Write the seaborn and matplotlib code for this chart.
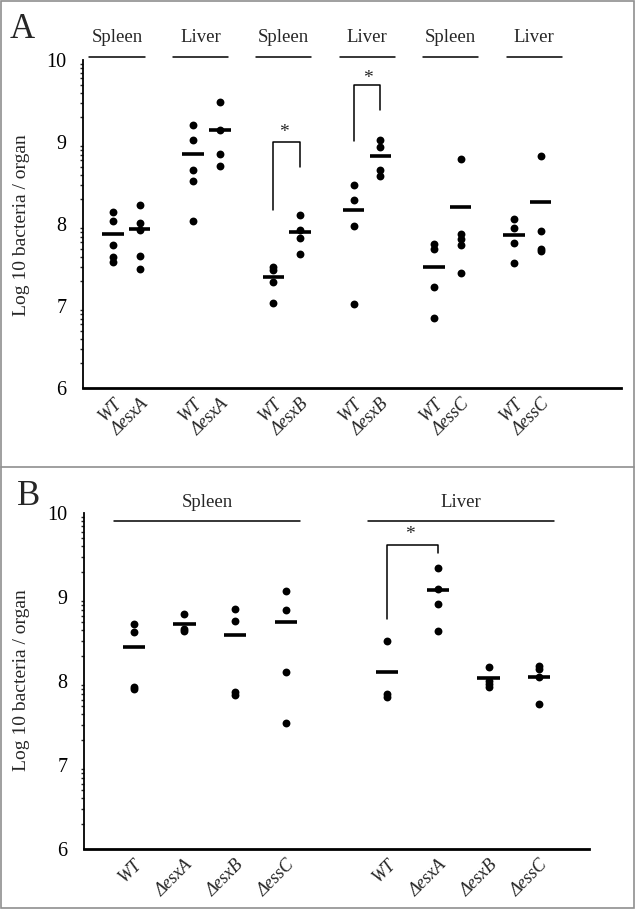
import numpy as np
import pandas as pd
import matplotlib
matplotlib.use('Agg')
import matplotlib.pyplot as plt
import seaborn as sns

# ---- panel A data (log10 CFU per organ) ----
a_organs = ['Spleen', 'Liver', 'Spleen', 'Liver', 'Spleen', 'Liver']
a_mutants = ['ΔesxA', 'ΔesxA', 'ΔesxB', 'ΔesxB', 'ΔessC', 'ΔessC']
a_wt_values = [
    [8.15, 8.04, 7.74, 7.60, 7.54],
    [9.21, 9.02, 8.66, 8.53, 8.04],
    [7.48, 7.44, 7.29, 7.04],
    [8.47, 8.29, 7.98, 7.02],
    [7.76, 7.70, 7.23, 6.85],
    [8.06, 7.95, 7.77, 7.53],
]
a_mut_values = [
    [8.23, 8.01, 7.93, 7.61, 7.45],
    [9.49, 9.15, 8.85, 8.71],
    [8.11, 7.93, 7.83, 7.64],
    [9.03, 8.94, 8.66, 8.59],
    [8.79, 7.88, 7.82, 7.75, 7.40],
    [8.83, 7.91, 7.70, 7.67],
]
a_wt_means = [7.88, 8.85, 7.35, 8.17, 7.48, 7.87]
a_mut_means = [7.94, 9.15, 7.90, 8.83, 8.21, 8.27]

# ---- panel B data ----
b_organs = ['Spleen', 'Liver']
b_strains = ['WT', 'ΔesxA', 'ΔesxB', 'ΔessC']
b_values = [
    [[8.68, 8.58, 7.93, 7.90], [8.80, 8.62, 8.60], [8.86, 8.71, 7.87, 7.83], [9.07, 8.84, 8.11, 7.50]],
    [[8.48, 7.85, 7.81], [9.35, 9.10, 8.92, 8.59], [8.17, 8.00, 7.96, 7.93], [8.18, 8.14, 8.05, 7.73]],
]
b_means = [[8.40, 8.68, 8.55, 8.70], [8.11, 9.08, 8.03, 8.05]]

W, H = 635, 910
plt.rcParams['figure.dpi'] = 100
sns.set_style('white')
plt.rcParams['font.family'] = ['Liberation Serif', 'DejaVu Serif']

fig = plt.figure(figsize=(W / 100, H / 100))


def px_axes(left, top, right, bottom):
    return fig.add_axes([left / W, 1 - bottom / H, (right - left) / W, (bottom - top) / H])


def style_axis(ax):
    ax.set_ylim(6, 10)
    ax.set_yticks([6, 7, 8, 9, 10])
    ax.set_yticklabels(['6', '7', '8', '9', '10'], fontsize=14.5)
    minor = [n + np.log10(k) for n in range(6, 10) for k in range(2, 10)]
    ax.set_yticks(minor, minor=True)
    ax.tick_params(axis='y', which='major', direction='out', length=4, width=1.2, pad=8, colors='black')
    ax.tick_params(axis='y', which='minor', direction='out', length=2.5, width=1.0, left=True)
    ax.tick_params(axis='x', length=0, pad=5)
    for s in ['top', 'right']:
        ax.spines[s].set_visible(False)
    ax.spines['left'].set_linewidth(1.3)
    ax.spines['left'].set_color('black')
    ax.spines['bottom'].set_linewidth(2.0)
    ax.spines['bottom'].set_color('black')
    ax.set_xlabel('')
    ax.set_ylabel('')
    ax.grid(False)


# ================= Panel A =================
axA = px_axes(83, 60, 621, 388)
rows = []
a_pos, a_lab, a_mean = [], [], []
for i in range(len(a_organs)):
    for j, (vals, lab, m) in enumerate([(a_wt_values[i], 'WT', a_wt_means[i]),
                                        (a_mut_values[i], a_mutants[i], a_mut_means[i])]):
        p = 3 * i + j
        a_pos.append(p)
        a_lab.append(lab)
        a_mean.append(m)
        for v in vals:
            rows.append({'pos': p, 'value': v})
dfA = pd.DataFrame(rows)
sns.scatterplot(data=dfA, x='pos', y='value', color='black', s=32, linewidth=0, ax=axA, legend=False)
a_pos = np.array(a_pos)
axA.hlines(a_mean, a_pos - 0.4, a_pos + 0.4, colors='black', lw=2.6)
axA.set_xlim(-1.12, 19.0)
style_axis(axA)
axA.set_xticks(a_pos)
axA.set_xticklabels(a_lab, rotation=45, ha='right', rotation_mode='anchor',
                    fontsize=13, fontstyle='italic')

# organ headers
for i, organ in enumerate(a_organs):
    c = 3.12 * i + 0.15
    axA.plot([c - 1.03, c + 1.03], [10.04, 10.04], color='black', lw=1.1, clip_on=False)
    axA.text(c, 10.27, organ, ha='center', va='center', fontsize=13.5)

# significance brackets
axA.plot([6, 6, 7, 7], [8.17, 9.0, 9.0, 8.70], color='black', lw=1.1)
axA.text(6.4, 9.12, '*', ha='center', va='center', fontsize=14)
axA.plot([9, 9, 10, 10], [9.01, 9.69, 9.69, 9.39], color='black', lw=1.1)
axA.text(9.55, 9.78, '*', ha='center', va='center', fontsize=14)

# ================= Panel B =================
axB = px_axes(84, 513, 589, 849)
rows = []
b_pos, b_lab, b_mean = [], [], []
for i in range(len(b_organs)):
    for j, strain in enumerate(b_strains):
        p = 5 * i + j
        b_pos.append(p)
        b_lab.append(strain)
        b_mean.append(b_means[i][j])
        for v in b_values[i][j]:
            rows.append({'pos': p, 'value': v})
dfB = pd.DataFrame(rows)
sns.scatterplot(data=dfB, x='pos', y='value', color='black', s=32, linewidth=0, ax=axB, legend=False)
b_pos = np.array(b_pos)
axB.hlines(b_mean, b_pos - 0.22, b_pos + 0.22, colors='black', lw=2.6)
axB.set_xlim(-0.98, 8.98)
style_axis(axB)
axB.set_xticks(b_pos)
axB.set_xticklabels(b_lab, rotation=45, ha='right', rotation_mode='anchor',
                    fontsize=13, fontstyle='italic')

for i, organ in enumerate(b_organs):
    c = 5 * i + 1.45
    axB.plot([c - 1.83, c + 1.83], [9.90, 9.90], color='black', lw=1.1, clip_on=False)
    axB.text(c, 10.13, organ, ha='center', va='center', fontsize=13.5)

axB.plot([5, 5, 6, 6], [8.74, 9.62, 9.62, 9.52], color='black', lw=1.1)
axB.text(5.45, 9.74, '*', ha='center', va='center', fontsize=14)

# y labels and panel letters
fig.text(22 / W, 1 - 225 / H, 'Log 10 bacteria / organ', rotation=90, ha='center', va='center', fontsize=14)
fig.text(22 / W, 1 - 680 / H, 'Log 10 bacteria / organ', rotation=90, ha='center', va='center', fontsize=14)
fig.text(10 / W, 1 - 13 / H, 'A', ha='left', va='top', fontsize=25)
fig.text(17 / W, 1 - 480 / H, 'B', ha='left', va='top', fontsize=25)

# panel frames
frame = '#8f8f8f'
fig.add_artist(plt.Rectangle((1 / W, 1 - 908 / H), 633 / W, 907 / H, transform=fig.transFigure,
                             fill=False, edgecolor=frame, lw=1.2))
fig.add_artist(plt.Line2D([1 / W, 634 / W], [1 - 467 / H, 1 - 467 / H], transform=fig.transFigure,
                          color=frame, lw=1.2))

fig.savefig('out.png', dpi=100)
